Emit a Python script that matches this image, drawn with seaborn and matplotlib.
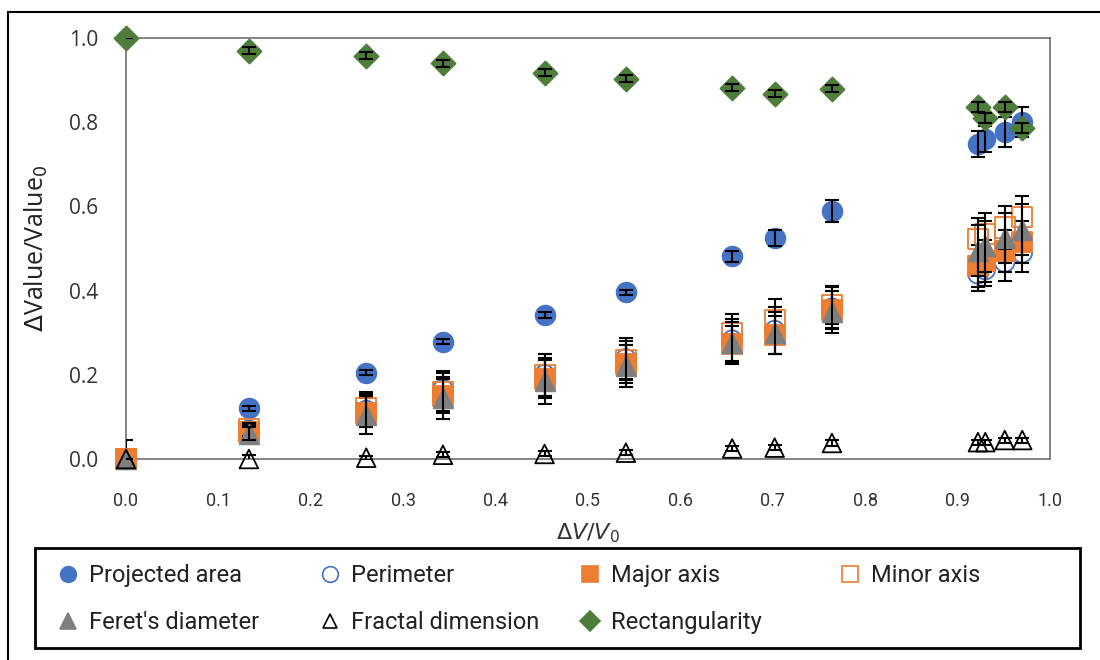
import numpy as np
import pandas as pd
import matplotlib
matplotlib.use("Agg")
import matplotlib.pyplot as plt
from matplotlib.lines import Line2D
from matplotlib.patches import Rectangle
import seaborn as sns

# Relative volume change (x axis)
dv_v0 = [0.0, 0.133, 0.260, 0.343, 0.453, 0.541, 0.656, 0.702, 0.764, 0.922, 0.930, 0.951, 0.970]

# Relative change of each shape descriptor, with standard deviations
projected_area = [0.0, 0.121, 0.205, 0.279, 0.342, 0.396, 0.481, 0.525, 0.589, 0.748, 0.760, 0.777, 0.800]
projected_area_sd = [0.0, 0.006, 0.006, 0.006, 0.006, 0.006, 0.012, 0.02, 0.026, 0.03, 0.03, 0.035, 0.035]

perimeter = [0.0, 0.068, 0.115, 0.165, 0.200, 0.238, 0.282, 0.305, 0.358, 0.440, 0.450, 0.468, 0.490]
perimeter_sd = [0.0, 0.02, 0.04, 0.045, 0.05, 0.05, 0.05, 0.055, 0.05, 0.04, 0.04, 0.045, 0.045]

major_axis = [0.0, 0.065, 0.110, 0.150, 0.190, 0.225, 0.272, 0.295, 0.355, 0.458, 0.470, 0.494, 0.515]
major_axis_sd = [0.045, 0.015, 0.035, 0.04, 0.045, 0.045, 0.045, 0.045, 0.045, 0.05, 0.05, 0.05, 0.05]

minor_axis = [0.0, 0.070, 0.120, 0.160, 0.200, 0.235, 0.300, 0.330, 0.365, 0.522, 0.535, 0.550, 0.575]
minor_axis_sd = [0.0, 0.015, 0.04, 0.045, 0.05, 0.045, 0.045, 0.05, 0.045, 0.05, 0.05, 0.05, 0.05]

ferets_diameter = [0.0, 0.060, 0.105, 0.145, 0.185, 0.220, 0.275, 0.300, 0.350, 0.495, 0.505, 0.525, 0.545]
ferets_diameter_sd = [0.0, 0.015, 0.045, 0.05, 0.055, 0.05, 0.05, 0.05, 0.05, 0.06, 0.06, 0.06, 0.06]

fractal_dimension = [0.0, 0.0, 0.003, 0.010, 0.012, 0.015, 0.025, 0.027, 0.038, 0.040, 0.040, 0.045, 0.045]
fractal_dimension_sd = [0.0, 0.01, 0.005, 0.006, 0.006, 0.006, 0.006, 0.006, 0.006, 0.006, 0.006, 0.006, 0.006]

rectangularity = [1.0, 0.970, 0.958, 0.940, 0.918, 0.903, 0.882, 0.868, 0.880, 0.836, 0.810, 0.837, 0.786]
rectangularity_sd = [0.0, 0.008, 0.008, 0.008, 0.008, 0.008, 0.008, 0.008, 0.008, 0.012, 0.012, 0.012, 0.012]

x_ticks = [0.0, 0.1, 0.2, 0.3, 0.4, 0.5, 0.6, 0.7, 0.8, 0.9, 1.0]
y_ticks = [0.0, 0.2, 0.4, 0.6, 0.8, 1.0]

BLUE = "#4472C4"
ORANGE = "#ED7D31"
GREY = "#7F7F7F"
GREEN = "#4E7D39"

# name, values, sd, marker, face, edge, size
series = [
    ("Projected area", projected_area, projected_area_sd, "o", BLUE, BLUE, 200),
    ("Perimeter", perimeter, perimeter_sd, "o", "none", BLUE, 200),
    ("Major axis", major_axis, major_axis_sd, "s", ORANGE, ORANGE, 210),
    ("Minor axis", minor_axis, minor_axis_sd, "s", "none", ORANGE, 210),
    ("Feret's diameter", ferets_diameter, ferets_diameter_sd, "^", GREY, GREY, 200),
    ("Fractal dimension", fractal_dimension, fractal_dimension_sd, "^", "none", "black", 180),
    ("Rectangularity", rectangularity, rectangularity_sd, "D", GREEN, GREEN, 150),
]

sns.set_theme(style="white")
plt.rcParams["font.family"] = ["Open Sans", "DejaVu Sans"]

W, H = 1100, 660
fig = plt.figure(figsize=(11, 6.6), dpi=100)
ax = fig.add_axes([126 / W, 1 - 459 / H, 924 / W, 421 / H])

handles = []
for z, (name, vals, sd, mk, fc, ec, size) in enumerate(series):
    df = pd.DataFrame({"dv": dv_v0, "val": vals, "sd": sd})
    sns.scatterplot(data=df, x="dv", y="val", marker=mk, s=size,
                    facecolor=fc, edgecolor=ec, linewidth=1.3,
                    ax=ax, zorder=3 + z * 0.1, clip_on=False, legend=False)
    ax.errorbar(df["dv"], df["val"], yerr=df["sd"], fmt="none",
                ecolor="black", elinewidth=1.5, capsize=5, capthick=1.5,
                zorder=3.05 + z * 0.1)
    handles.append(Line2D([], [], linestyle="none", marker=mk,
                          markersize=np.sqrt(size) * 0.8,
                          markerfacecolor=fc, markeredgecolor=ec,
                          markeredgewidth=1.2, label=name))

ax.set_xlim(0, 1.0)
ax.set_ylim(0, 1.0)
ax.set_xticks(x_ticks)
ax.set_yticks(y_ticks)
ax.set_xticklabels([f"{t:.1f}" for t in x_ticks], fontsize=13, family=["Roboto", "DejaVu Sans"])
ax.set_yticklabels([f"{t:.1f}" for t in y_ticks], fontsize=15)
ax.tick_params(axis="x", length=0, pad=24, colors="#333333")
ax.tick_params(axis="y", length=0, pad=20, colors="#333333")
for sp in ax.spines.values():
    sp.set_color("#707070")
    sp.set_linewidth(1.2)
ax.grid(False)

ax.set_xlabel(r"$\Delta V/V_0$", fontsize=16, labelpad=8, color="#333333")
ax.set_ylabel(r"$\Delta$Value/Value$_0$", fontsize=18, labelpad=14, color="#222222")

# Legend: four evenly spaced columns of two rows inside one framed box
columns = [[0, 4], [1, 5], [2, 6], [3]]
col_left = [54, 316, 576, 836]
for idx, x0 in zip(columns, col_left):
    lg = fig.legend([handles[i] for i in idx], [handles[i].get_label() for i in idx],
                    loc="upper left", bbox_to_anchor=(x0 / W, 1 - 564 / H),
                    frameon=False, borderpad=0, borderaxespad=0,
                    handletextpad=0.3, handlelength=1.2, labelspacing=1.03,
                    prop={"family": ["Roboto", "DejaVu Sans"], "size": 17})
    for t in lg.get_texts():
        t.set_color("#222222")
fig.add_artist(Rectangle((35 / W, 12 / H), 1045 / W, 100 / H, transform=fig.transFigure,
                         fill=False, edgecolor="black", linewidth=2.0))

# Outer frame of the figure (top and left edges)
fig.add_artist(Line2D([8 / W, 8 / W], [0, 1 - 12 / H], color="black", lw=1.5))
fig.add_artist(Line2D([8 / W, 1], [1 - 12 / H, 1 - 12 / H], color="black", lw=1.5))

fig.savefig("out.png", dpi=100)
